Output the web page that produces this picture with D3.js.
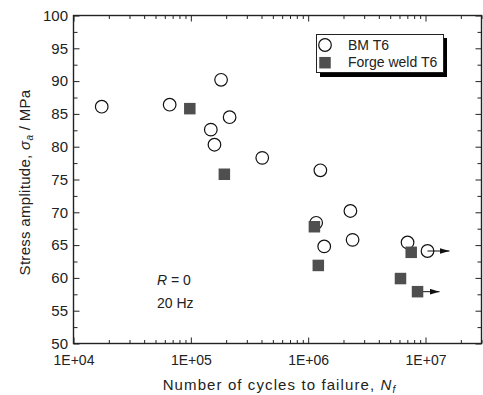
<!DOCTYPE html>
<html>
<head>
<meta charset="utf-8">
<script src="https://cdn.jsdelivr.net/npm/d3@7"></script>
<style>
  body { margin: 0; background: #fff; }
  svg { display: block; font-family: "Liberation Sans", Arial, sans-serif; }
</style>
</head>
<body>
<figure id="chart" style="margin:0"></figure>
<script>
// BM T6 (open circles)
const bmCycles = [1.74e4, 6.6e4, 1.81e5, 2.14e5, 1.48e5, 1.59e5, 4.06e5, 1.27e6, 2.29e6, 1.17e6, 2.39e6, 1.37e6, 7.03e6, 1.04e7];
const bmStress = [86.1, 86.4, 90.2, 84.5, 82.6, 80.3, 78.3, 76.4, 70.2, 68.4, 65.8, 64.8, 65.4, 64.1];
const bmRunout = [false, false, false, false, false, false, false, false, false, false, false, false, false, true];

// Forge weld T6 (filled squares)
const fwCycles = [9.8e4, 1.93e5, 1.13e6, 1.22e6, 7.55e6, 6.12e6, 8.55e6];
const fwStress = [85.8, 75.8, 67.8, 61.9, 63.9, 59.9, 57.9];
const fwRunout = [false, false, false, false, false, false, true];

const xMajor = [1e4, 1e5, 1e6, 1e7];
const yMajor = [50, 55, 60, 65, 70, 75, 80, 85, 90, 95, 100];
const seriesNames = ["BM T6", "Forge weld T6"];

const W = 483, H = 395;
const pLeft = 73.5, pRight = 481.5, pTop = 15.5, pBottom = 343.5;

const svg = d3.select("#chart").append("svg")
  .attr("width", W).attr("height", H);

const x = d3.scaleLog().domain([1e4, 3e7]).range([pLeft, pRight]);
const y = d3.scaleLinear().domain([50, 100]).range([pBottom, pTop]);

// minor ticks: 2..9 in each decade
const xMinor = [];
for (let d = 1e4; d < 3e7; d *= 10) {
  for (let k = 2; k <= 9; k++) if (d * k <= 3e7) xMinor.push(d * k);
}
const yMinor = d3.range(52.5, 100, 5);

const fmt = d => "1E+" + String(Math.round(Math.log10(d))).padStart(2, "0");

function styleAxis(g, size) {
  g.select(".domain").remove();
  g.selectAll("line").attr("stroke", "#222").attr("stroke-width", 1);
  if (size) g.selectAll("text").attr("font-size", size).attr("fill", "#222")
    .attr("font-family", "Liberation Sans, Arial, sans-serif");
  else g.selectAll("text").remove();
}

// bottom
svg.append("g").attr("transform", `translate(0,${pBottom})`)
  .call(d3.axisBottom(x).tickValues(xMajor).tickFormat(fmt).tickSizeInner(-6).tickSizeOuter(0).tickPadding(11.5))
  .call(g => styleAxis(g, 14));
svg.append("g").attr("transform", `translate(0,${pBottom})`)
  .call(d3.axisBottom(x).tickValues(xMinor).tickSizeInner(-3.5).tickSizeOuter(0))
  .call(g => styleAxis(g, 0));
// top
svg.append("g").attr("transform", `translate(0,${pTop})`)
  .call(d3.axisTop(x).tickValues(xMajor).tickSizeInner(-6).tickSizeOuter(0))
  .call(g => styleAxis(g, 0));
svg.append("g").attr("transform", `translate(0,${pTop})`)
  .call(d3.axisTop(x).tickValues(xMinor).tickSizeInner(-3.5).tickSizeOuter(0))
  .call(g => styleAxis(g, 0));
// left
svg.append("g").attr("transform", `translate(${pLeft},0)`)
  .call(d3.axisLeft(y).tickValues(yMajor).tickSizeInner(-6).tickSizeOuter(0).tickPadding(5.5))
  .call(g => styleAxis(g, 15));
svg.append("g").attr("transform", `translate(${pLeft},0)`)
  .call(d3.axisLeft(y).tickValues(yMinor).tickSizeInner(-4).tickSizeOuter(0))
  .call(g => styleAxis(g, 0));
// right
svg.append("g").attr("transform", `translate(${pRight},0)`)
  .call(d3.axisRight(y).tickValues(yMajor).tickSizeInner(-6).tickSizeOuter(0))
  .call(g => styleAxis(g, 0));
svg.append("g").attr("transform", `translate(${pRight},0)`)
  .call(d3.axisRight(y).tickValues(yMinor).tickSizeInner(-4).tickSizeOuter(0))
  .call(g => styleAxis(g, 0));

// frame
svg.append("rect")
  .attr("x", pLeft).attr("y", pTop)
  .attr("width", pRight - pLeft).attr("height", pBottom - pTop)
  .attr("fill", "none").attr("stroke", "#222").attr("stroke-width", 1.4);

// arrow head
svg.append("defs").append("marker")
  .attr("id", "arrow").attr("viewBox", "0 0 10 6")
  .attr("refX", 10).attr("refY", 3)
  .attr("markerWidth", 10).attr("markerHeight", 6)
  .attr("markerUnits", "userSpaceOnUse")
  .attr("orient", "auto")
  .append("path").attr("d", "M0,0L10,3L0,6Z").attr("fill", "#111");

const bm = bmCycles.map((c, i) => ({c, s: bmStress[i], run: bmRunout[i]}));
const fw = fwCycles.map((c, i) => ({c, s: fwStress[i], run: fwRunout[i]}));

// run-out arrows
const runs = bm.concat(fw).filter(d => d.run);
svg.selectAll(".runout").data(runs).enter().append("line")
  .attr("x1", d => x(d.c)).attr("y1", d => y(d.s))
  .attr("x2", d => x(d.c) + 22).attr("y2", d => y(d.s))
  .attr("stroke", "#111").attr("stroke-width", 1)
  .attr("marker-end", "url(#arrow)");

// BM circles
svg.selectAll(".bm").data(bm).enter().append("circle")
  .attr("cx", d => x(d.c)).attr("cy", d => y(d.s)).attr("r", 6.3)
  .attr("fill", "none").attr("stroke", "#111").attr("stroke-width", 1.2);

// forge weld squares
const sq = 11.5;
svg.selectAll(".fw").data(fw).enter().append("rect")
  .attr("x", d => x(d.c) - sq / 2).attr("y", d => y(d.s) - sq / 2)
  .attr("width", sq).attr("height", sq)
  .attr("fill", "#4f4f4f");

// legend
const lg = svg.append("g");
lg.append("rect").attr("x", 320).attr("y", 38).attr("width", 127).attr("height", 39).attr("fill", "#000");
lg.append("rect").attr("x", 316.5).attr("y", 34.5).attr("width", 127).attr("height", 38)
  .attr("fill", "#fff").attr("stroke", "#222").attr("stroke-width", 1);
lg.append("circle").attr("cx", 325).attr("cy", 45).attr("r", 6.3)
  .attr("fill", "none").attr("stroke", "#111").attr("stroke-width", 1.2);
lg.append("rect").attr("x", 325 - sq / 2).attr("y", 62.7 - sq / 2).attr("width", sq).attr("height", sq)
  .attr("fill", "#4f4f4f");
lg.selectAll(".lt").data(seriesNames).enter().append("text")
  .attr("x", 348).attr("y", (d, i) => 50 + i * 17)
  .attr("font-size", 14).attr("fill", "#222")
  .text(d => d);

// annotations
const ann = svg.append("g").attr("font-size", 14).attr("fill", "#222");
const r0 = ann.append("text").attr("x", 157).attr("y", 285);
r0.append("tspan").attr("font-style", "italic").text("R");
r0.append("tspan").text(" = 0");
ann.append("text").attr("x", 157).attr("y", 308).text("20 Hz");

// x title
const xt = svg.append("text")
  .attr("x", (pLeft + pRight) / 2 + 2).attr("y", 390)
  .attr("text-anchor", "middle").attr("font-size", 15).attr("fill", "#222")
  .attr("letter-spacing", 1.1);
xt.append("tspan").text("Number of cycles to failure, ");
xt.append("tspan").attr("font-style", "italic").text("N");
xt.append("tspan").attr("font-style", "italic").attr("font-size", 10).attr("dy", 3).text("f");

// y title
const yt = svg.append("text")
  .attr("transform", `translate(30,${(pTop + pBottom) / 2 + 3}) rotate(-90)`)
  .attr("text-anchor", "middle").attr("font-size", 15).attr("fill", "#222")
  .attr("letter-spacing", 0.3);
yt.append("tspan").text("Stress amplitude, ");
yt.append("tspan").attr("font-style", "italic").text("σ");
yt.append("tspan").attr("font-style", "italic").attr("font-size", 10).attr("dy", 3).text("a");
yt.append("tspan").attr("dy", -3).text(" / MPa");
</script>
</body>
</html>
